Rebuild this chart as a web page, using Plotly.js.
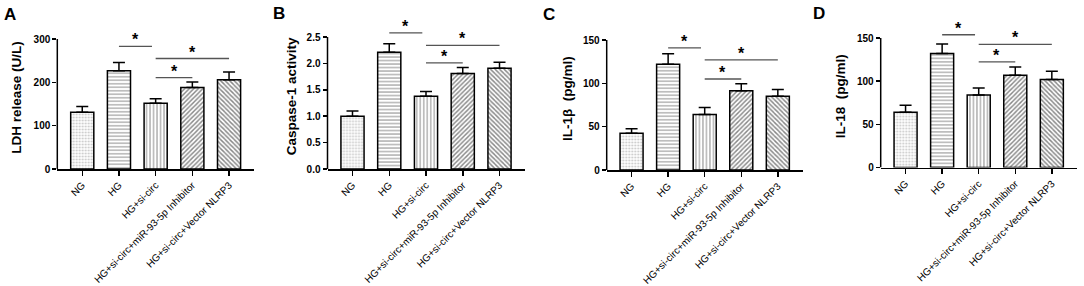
<!DOCTYPE html>
<html>
<head>
<meta charset="utf-8">
<script src="https://cdn.plot.ly/plotly-3.0.1.min.js"></script>
<style>html,body{margin:0;padding:0;background:#fff;}#chart{width:1084px;height:286px;}</style>
</head>
<body>
<div id="chart"></div>
<script>
// ---- data ----
const categories = ["NG", "HG", "HG+si-circ", "HG+si-circ+miR-93-5p Inhibitor", "HG+si-circ+Vector NLRP3"];

const ldhMean  = [131, 227, 152, 188, 206];
const ldhErr   = [13, 19, 10, 13, 18];
const caspMean = [1.0, 2.21, 1.38, 1.81, 1.91];
const caspErr  = [0.10, 0.16, 0.09, 0.11, 0.11];
const il1bMean = [42.5, 122, 64, 91.5, 85];
const il1bErr  = [5, 12, 8, 8, 8];
const il18Mean = [64, 132, 84, 107, 102];
const il18Err  = [8, 11, 8, 9.5, 9.5];

// significance brackets (category index from/to, height in data units)
const sigFrom = [1, 2, 2];
const sigTo   = [1.9, 4, 3];
const ldhSig  = [283, 255, 211];
const caspSig = [2.58, 2.34, 2.01];
const il1bSig = [141, 127, 105];
const il18Sig = [153.8, 142.7, 122.5];
const sigLabel = ["*", "*", "*"];

const panelLetters = ["A", "B", "C", "D"];
const yTitles = ["LDH release\u00a0(U/L)", "Caspase-1 activity", "IL-1\u03b2\u00a0\u00a0(pg/ml)", "IL-18\u00a0\u00a0(pg/ml)"];
const ldhTicks  = [0, 100, 200, 300];
const caspTicks = [0, 0.5, 1.0, 1.5, 2.0, 2.5];
const caspTickText = ["0.0", "0.5", "1.0", "1.5", "2.0", "2.5"];
const il1bTicks = [0, 50, 100, 150];
const il18Ticks = [0, 50, 100, 150];

// ---- layout geometry (pixels measured from reference) ----
const W = 1084, H = 286;
const panels = [
  {mean: ldhMean,  err: ldhErr,  sig: ldhSig,  ticks: ldhTicks,  ticktext: null,         yMax: 330,  x0: 57.3,  x1: 254,    bottom: 169,   top: 26,   standoff: 8},
  {mean: caspMean, err: caspErr, sig: caspSig, ticks: caspTicks, ticktext: caspTickText, yMax: 2.75, x0: 327.5, x1: 524.5,  bottom: 169,   top: 23.8, standoff: 6},
  {mean: il1bMean, err: il1bErr, sig: il1bSig, ticks: il1bTicks, ticktext: null,         yMax: 165,  x0: 606.7, x1: 802.7,  bottom: 170,   top: 27,   standoff: 7},
  {mean: il18Mean, err: il18Err, sig: il18Sig, ticks: il18Ticks, ticktext: null,         yMax: 165,  x0: 880.7, x1: 1076.7, bottom: 167.5, top: 25.1, standoff: 8}
];
const letterPos = [[2, 3], [271, 2], [541, 3], [811, 2]];

const FONT = "'Liberation Sans', Arial, sans-serif";
const patternShapes = [".", "-", "|", "/", "\\"];
const patternSizes = [3, 3.5, 3.5, 3.2, 3.2];
const patternSolid = [0.3, 0.3, 0.3, 0.45, 0.45];
const patternFg = ["#888", "#222", "#222", "#111", "#111"];

const data = [];
const layout = {
  width: W, height: H,
  margin: {l: 0, r: 0, t: 0, b: 0},
  paper_bgcolor: "#fff", plot_bgcolor: "#fff",
  showlegend: false,
  bargap: 0.37,
  font: {family: FONT, color: "#000"},
  shapes: [], annotations: []
};

panels.forEach((p, i) => {
  const n = i + 1;
  const xa = n === 1 ? "x" : "x" + n;
  const ya = n === 1 ? "y" : "y" + n;
  data.push({
    type: "bar", x: categories, y: p.mean, xaxis: xa, yaxis: ya,
    marker: {
      color: "#fff",
      line: {color: "#000", width: 1.5},
      pattern: {shape: patternShapes, size: patternSizes, solidity: patternSolid,
                fgcolor: patternFg, bgcolor: "#fff", fillmode: "overlay"}
    },
    error_y: {type: "data", symmetric: false, array: p.err, arrayminus: p.err.map(() => 0),
              color: "#000", thickness: 1.5, width: 6},
    hoverinfo: "none"
  });
  const xk = n === 1 ? "xaxis" : "xaxis" + n;
  const yk = n === 1 ? "yaxis" : "yaxis" + n;
  layout[xk] = {
    domain: [p.x0 / W, p.x1 / W], anchor: ya, type: "category",
    categoryorder: "array", categoryarray: categories,
    range: [-0.68, 4.68], showline: true, linecolor: "#000", linewidth: 1.5,
    ticks: "outside", ticklen: 5, tickwidth: 1.5, tickcolor: "#000",
    tickangle: -45, tickfont: {family: FONT, size: 10, color: "#000"},
    showgrid: false, zeroline: false, fixedrange: true
  };
  layout[yk] = {
    domain: [1 - p.bottom / H, 1 - p.top / H], anchor: xa,
    range: [0, p.yMax], showline: false,
    tickmode: "array", tickvals: p.ticks, ticktext: p.ticktext || p.ticks.map(String),
    ticks: "outside", ticklen: 4, tickwidth: 1.5, tickcolor: "#000",
    tickfont: {family: FONT, size: 10, color: "#000", weight: "bold"},
    title: {text: yTitles[i], font: {family: FONT, size: 13.5, color: "#000", weight: "bold"}, standoff: p.standoff},
    showgrid: false, zeroline: false, fixedrange: true
  };
  // y-axis line up to the top tick
  layout.shapes.push({type: "line", xref: xa + " domain", yref: ya, x0: 0, x1: 0,
                      y0: 0, y1: p.ticks[p.ticks.length - 1], line: {color: "#000", width: 1.5}});
  // significance brackets
  sigFrom.forEach((f, k) => {
    layout.shapes.push({type: "line", xref: xa, yref: ya, x0: f, x1: sigTo[k],
                        y0: p.sig[k], y1: p.sig[k], line: {color: "#555", width: 1.3}});
    layout.annotations.push({xref: xa, yref: ya, x: (f + sigTo[k]) / 2, y: p.sig[k],
                             text: sigLabel[k], showarrow: false, yanchor: "bottom", yshift: -4,
                             font: {family: FONT, size: 16, color: "#000", weight: "bold"}});
  });
  // panel letter
  layout.annotations.push({xref: "paper", yref: "paper", x: letterPos[i][0] / W, y: 1 - letterPos[i][1] / H,
                           xanchor: "left", yanchor: "top", text: panelLetters[i], showarrow: false,
                           font: {family: FONT, size: 17, color: "#000", weight: "bold"}});
});

Plotly.newPlot("chart", data, layout, {staticPlot: true, displayModeBar: false});
</script>
</body>
</html>
